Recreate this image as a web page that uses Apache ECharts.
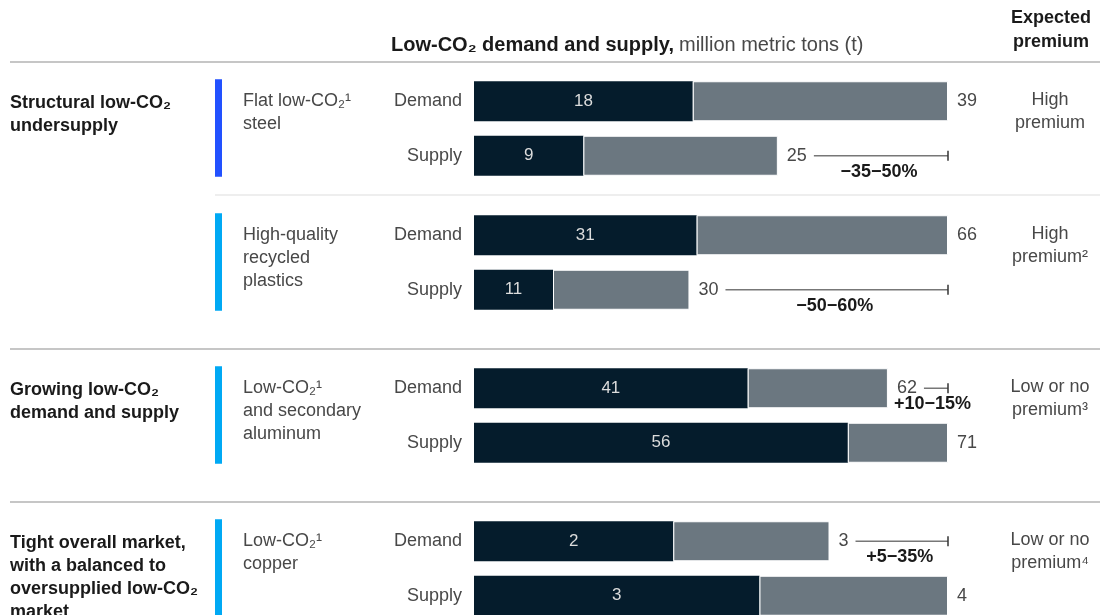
<!DOCTYPE html>
<html>
<head>
<meta charset="utf-8">
<script src="https://cdn.jsdelivr.net/npm/echarts@6/dist/echarts.min.js"></script>
<style>
  html, body { margin: 0; padding: 0; background: #fff; overflow: hidden; }
  #chart { width: 1101px; height: 640px; }
</style>
</head>
<body>
<div id="chart"></div>
<script>
// data
const groups = ['Structural low-CO₂\nundersupply', '', 'Growing low-CO₂\ndemand and supply', 'Tight overall market,\nwith a balanced to\noversupplied low-CO₂\nmarket'];
const materials = ['Flat low-CO₂¹\nsteel', 'High-quality\nrecycled\nplastics', 'Low-CO₂¹\nand secondary\naluminum', 'Low-CO₂¹\ncopper'];
const rows = ['Demand', 'Supply'];
const demandLow = [18, 31, 41, 1.85];
const demandTotal = [39, 66, 62, 3.3];
const supplyLow = [9, 11, 56, 2.65];
const supplyTotal = [25, 30, 71, 4.4];
const gapLabels = ['−35−50%', '−50−60%', '+10−15%', '+5−35%'];
const gapRow = [1, 1, 0, 0]; // 0 = on demand row, 1 = on supply row
const premiums = ['High\npremium', 'High\npremium²', 'Low or no\npremium³', 'Low or no\npremium⁴'];

// styling
const FONT = '"Liberation Sans", Arial, sans-serif';
const NAVY = '#051c2c';
const GREY = '#6b7780';
const TEXT = '#484848';
const DARK = '#1a1a1a';
const accent = ['#2251ff', '#00a9f4', '#00a9f4', '#00a9f4'];
const gridTops = [74, 208, 361, 514];

const chart = echarts.init(document.getElementById('chart'));

const grids = [], xAxes = [], yAxes = [], series = [];
materials.forEach((m, i) => {
  const low = [demandLow[i], supplyLow[i]];
  const tot = [demandTotal[i], supplyTotal[i]];
  grids.push({ left: 474, right: 153, top: gridTops[i], height: 109 });
  xAxes.push({ type: 'value', gridIndex: i, min: 0, max: Math.max(tot[0], tot[1]), show: false });
  yAxes.push({
    type: 'category', gridIndex: i, data: rows, inverse: true,
    axisLine: { show: false }, axisTick: { show: false },
    axisLabel: { fontFamily: FONT, fontSize: 18, color: TEXT, margin: 12 }
  });
  series.push({
    type: 'bar', xAxisIndex: i, yAxisIndex: i, stack: 's' + i, barWidth: 40,
    data: low, itemStyle: { color: NAVY },
    label: { show: true, position: 'inside', color: '#dcdcdc', fontFamily: FONT, fontSize: 17,
      formatter: p => Math.round(p.value) }
  });
  series.push({
    type: 'bar', xAxisIndex: i, yAxisIndex: i, stack: 's' + i, barWidth: 40,
    data: tot.map((t, k) => t - low[k]),
    itemStyle: { color: GREY, borderColor: '#fff', borderWidth: 1 },
    label: { show: true, position: 'right', distance: 9, color: TEXT, fontFamily: FONT, fontSize: 18,
      formatter: p => Math.round(tot[p.dataIndex]) }
  });
});

chart.setOption({
  animation: false,
  textStyle: { fontFamily: FONT },
  title: {
    left: 386, top: 30,
    text: '{b|Low-CO₂ demand and supply,} {r|million metric tons (t)}',
    textStyle: { fontWeight: 'normal', rich: {
      b: { fontFamily: FONT, fontSize: 20, fontWeight: 'bold', color: DARK },
      r: { fontFamily: FONT, fontSize: 20, fontWeight: 'normal', color: TEXT }
    } }
  },
  grid: grids, xAxis: xAxes, yAxis: yAxes, series: series
});

// annotations positioned from the axes
const ctx = document.createElement('canvas').getContext('2d');
const g = [];
const hline = (x1, x2, y, color, w) => g.push({ type: 'line', silent: true,
  shape: { x1, y1: y, x2, y2: y }, style: { stroke: color, lineWidth: w } });

hline(10, 1100, 62, '#b3b3b3', 1.5);
hline(215, 1100, 195, '#e8e8e8', 1.5);
hline(10, 1100, 349, '#b3b3b3', 1.5);
hline(10, 1100, 502, '#b3b3b3', 1.5);

g.push({ type: 'text', x: 1051, y: 6, style: { text: 'Expected\npremium',
  font: 'bold 18px ' + FONT, fill: DARK, align: 'center', lineHeight: 24 } });

materials.forEach((m, i) => {
  const yD = chart.convertToPixel({ gridIndex: i }, [0, 0])[1];
  const yS = chart.convertToPixel({ gridIndex: i }, [0, 1])[1];
  const maxV = Math.max(demandTotal[i], supplyTotal[i]);
  const xEnd = chart.convertToPixel({ gridIndex: i }, [maxV, 0])[0];

  if (groups[i]) g.push({ type: 'text', x: 10, y: yD - 10, style: { text: groups[i],
    font: 'bold 18px ' + FONT, fill: DARK, lineHeight: 23 } });
  g.push({ type: 'rect', shape: { x: 215, y: yD - 22, width: 7, height: yS - yD + 43 },
    style: { fill: accent[i] } });
  g.push({ type: 'text', x: 243, y: yD - 12, style: { text: m,
    font: '18px ' + FONT, fill: TEXT, lineHeight: 23 } });
  g.push({ type: 'text', x: 1050, y: yD - 13, style: { text: premiums[i],
    font: '18px ' + FONT, fill: TEXT, align: 'center', lineHeight: 23 } });

  // gap bracket
  const r = gapRow[i];
  const tot = r === 0 ? demandTotal[i] : supplyTotal[i];
  const yR = r === 0 ? yD : yS;
  const xBar = chart.convertToPixel({ gridIndex: i }, [tot, 0])[0];
  ctx.font = '18px ' + FONT;
  const labelW = ctx.measureText(String(Math.round(tot))).width;
  ctx.font = 'bold 18px ' + FONT;
  const textW = ctx.measureText(gapLabels[i]).width;
  const x1 = xBar + 9 + labelW + 7;
  hline(x1, xEnd, yR, '#777', 1.5);
  g.push({ type: 'line', shape: { x1: xEnd, y1: yR - 5, x2: xEnd, y2: yR + 5 }, style: { stroke: '#333', lineWidth: 1.5 } });
  const fits = textW < xEnd - x1;
  g.push({ type: 'text', x: fits ? (x1 + xEnd) / 2 - 2 : xBar + 6, y: yR + 7, style: { text: gapLabels[i],
    font: 'bold 18px ' + FONT, fill: DARK, align: fits ? 'center' : 'left' } });
});

chart.setOption({ graphic: { elements: g } });
</script>
</body>
</html>
